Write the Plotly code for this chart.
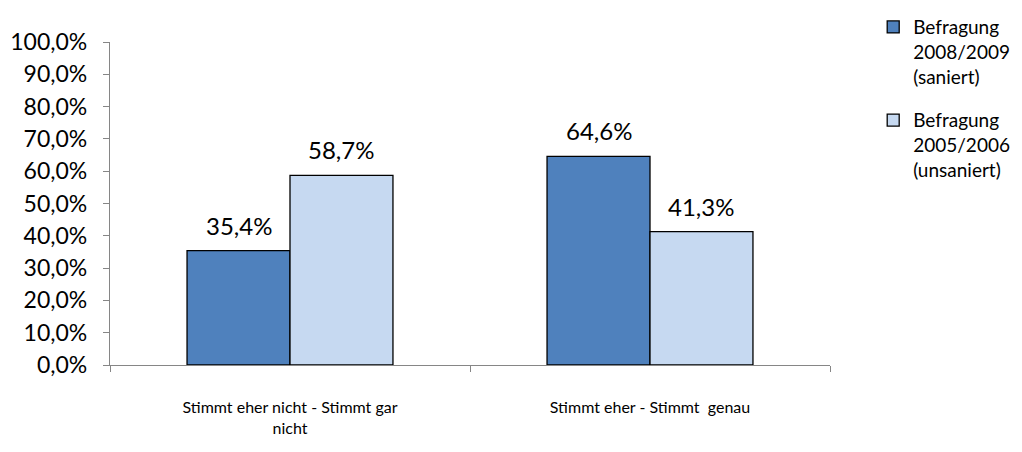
import plotly.graph_objects as go

categories = ["Stimmt eher nicht - Stimmt gar<br>nicht", "Stimmt eher - Stimmt  genau"]
series_names = ["Befragung<br>2008/2009<br>(saniert)", "Befragung<br>2005/2006<br>(unsaniert)"]
values_2008 = [35.4, 64.6]
values_2005 = [58.7, 41.3]
colors = ["#4F81BD", "#C6D9F1"]
y_ticks = [0, 10, 20, 30, 40, 50, 60, 70, 80, 90, 100]
y_tick_text = [f"{v:.1f}%".replace(".", ",") for v in y_ticks]

FONT = "Lato, sans-serif"

# page body has an 8px margin, so the figure is made 8px smaller
W, H = 1014, 444
ML, MR, MT, MB = 102, 192, 34, 87
BARGAP = 0.428
plot_w = W - ML - MR
bar_px = plot_w / len(categories) * (1 - BARGAP) / 2

fig = go.Figure()
all_vals = [values_2008, values_2005]
for j, (name, vals, col) in enumerate(zip(series_names, all_vals, colors)):
    fig.add_trace(go.Bar(
        x=categories,
        y=vals,
        name=name,
        legendgroup=f"g{j}",
        marker=dict(color=col, line=dict(color="black", width=1.3)),
    ))
    # value labels above the bars
    for cat, v in zip(categories, vals):
        fig.add_annotation(
            x=cat, y=v,
            text=f"{v:.1f}%".replace(".", ","),
            showarrow=False,
            yanchor="bottom",
            xshift=(j - 0.5) * bar_px,
            yshift=9,
            font=dict(size=24, family=FONT, color="black"),
        )

fig.update_layout(
    width=W,
    height=H,
    margin=dict(l=ML, r=MR, t=MT, b=MB, autoexpand=False),
    paper_bgcolor="white",
    plot_bgcolor="white",
    barmode="group",
    bargap=BARGAP,
    bargroupgap=0,
    font=dict(family=FONT, size=16, color="black"),
    legend=dict(
        x=1.06, y=1.105, xanchor="left", yanchor="top",
        font=dict(size=19, family=FONT),
        valign="top",
        tracegroupgap=16,
        itemwidth=30,
    ),
    showlegend=True,
)

fig.update_yaxes(
    range=[0, 100],
    tickmode="array",
    tickvals=y_ticks,
    ticktext=y_tick_text,
    showgrid=False,
    showline=True,
    linecolor="#868686",
    linewidth=1.3,
    ticks="outside",
    ticklen=6,
    tickcolor="#868686",
    ticklabelstandoff=11,
    zeroline=False,
    automargin=False,
    tickfont=dict(size=23),
)
fig.update_xaxes(
    showgrid=False,
    showline=True,
    linecolor="#868686",
    linewidth=1.3,
    ticks="outside",
    ticklen=6,
    tickcolor="#868686",
    tickson="boundaries",
    ticklabelstandoff=28,
    automargin=False,
    tickfont=dict(size=16),
)

fig.write_html("out.html")
